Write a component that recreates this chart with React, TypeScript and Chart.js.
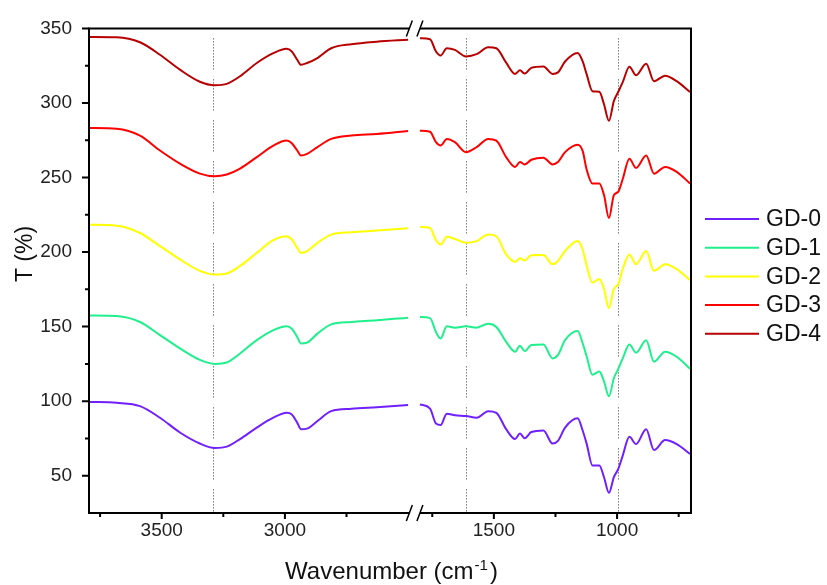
import { useEffect, useRef } from 'react';
import { Chart, registerables } from 'chart.js';

Chart.register(...registerables);

const seriesNames = ['GD-0', 'GD-1', 'GD-2', 'GD-3', 'GD-4'];
const seriesColors = ['#7020FF', '#1FEF8C', '#FFFF00', '#FF0000', '#B80000'];

// wavenumbers (cm-1), left segment of broken axis
const leftWavenumbers = [3795, 3683, 3588, 3507, 3426, 3345, 3284, 3236, 3182, 3114, 3047, 2993, 2972, 2950, 2935, 2910, 2868, 2812, 2730, 2627, 2500];
// right segment
const rightWavenumbers = [1800, 1759, 1735, 1716, 1691, 1658, 1613, 1570, 1523, 1490, 1450, 1414, 1394, 1375, 1348, 1299, 1262, 1240, 1211, 1160, 1140, 1123, 1100, 1072, 1053, 1033, 1013, 995, 977, 950, 923, 882, 850, 805, 758, 704];

const gd0Left = [99.5, 98.9, 96.7, 88.9, 79.0, 71.6, 68.6, 69.5, 74.6, 82.3, 88.9, 92.2, 91.1, 85.6, 81.2, 81.6, 86.7, 93.3, 94.9, 96.0, 97.4];
const gd1Left = [157.5, 157.1, 153.1, 144.3, 135.4, 127.7, 125.0, 125.9, 132.0, 140.9, 147.6, 150.2, 148.6, 143.1, 138.7, 139.3, 145.3, 151.5, 153.1, 154.2, 156.0];
const gd2Left = [218.3, 217.7, 212.8, 204.0, 195.1, 187.4, 184.9, 185.6, 190.7, 199.5, 208.0, 210.6, 208.4, 202.9, 199.5, 200.7, 206.2, 211.7, 213.3, 214.4, 215.9];
const gd3Left = [283.2, 282.7, 278.1, 268.1, 259.3, 252.6, 250.8, 252.0, 256.0, 263.7, 271.4, 274.8, 273.0, 268.1, 264.8, 265.9, 270.4, 275.9, 278.1, 279.2, 281.2];
const gd4Left = [344.2, 344.0, 340.7, 332.3, 322.3, 314.2, 311.9, 312.8, 317.9, 326.8, 333.4, 336.3, 334.5, 329.0, 325.6, 326.8, 330.1, 336.7, 339.4, 341.1, 342.4];

const gd0Right = [97.8, 95.0, 85.0, 84.0, 91.6, 90.5, 90.0, 88.9, 93.3, 92.2, 81.2, 74.6, 78.3, 75.2, 79.3, 80.4, 71.6, 73.4, 82.3, 88.5, 80.5, 71.2, 56.9, 56.9, 49.0, 38.5, 49.0, 54.6, 63.5, 76.1, 71.2, 81.2, 67.2, 73.9, 71.2, 64.6];
const gd1Right = [156.4, 155.7, 146.4, 142.0, 150.2, 149.3, 150.2, 149.3, 151.9, 149.8, 139.8, 133.2, 137.2, 133.6, 137.6, 138.0, 128.7, 131.0, 140.9, 147.0, 139.0, 129.8, 117.7, 119.9, 113.3, 103.3, 115.4, 121.7, 128.7, 138.0, 132.5, 140.9, 126.5, 133.2, 129.8, 121.7];
const gd2Right = [216.8, 216.1, 208.0, 205.0, 210.2, 208.8, 206.2, 207.3, 211.7, 210.6, 198.4, 193.4, 195.8, 194.4, 197.8, 198.0, 191.8, 194.0, 200.7, 207.5, 202.0, 190.7, 179.6, 181.9, 175.2, 162.4, 175.2, 178.5, 188.5, 198.4, 191.8, 200.7, 187.4, 191.8, 188.5, 181.2];
const gd3Right = [281.4, 280.7, 273.7, 271.4, 275.9, 273.7, 267.0, 270.4, 275.9, 274.7, 263.7, 257.1, 260.4, 258.8, 261.9, 263.3, 258.8, 260.4, 267.0, 272.0, 268.0, 255.0, 246.0, 246.0, 238.2, 222.8, 238.2, 240.5, 249.0, 262.6, 256.4, 264.8, 252.6, 257.1, 253.8, 246.0];
const gd4Right = [343.4, 342.7, 334.5, 331.8, 336.7, 335.6, 331.2, 332.7, 337.4, 336.7, 327.0, 319.5, 321.9, 319.7, 323.5, 324.5, 319.5, 320.5, 327.8, 333.5, 328.0, 319.0, 307.9, 307.5, 299.1, 288.0, 301.3, 307.5, 314.0, 324.3, 318.6, 326.3, 314.6, 318.3, 314.6, 307.3];

const leftValues = [gd0Left, gd1Left, gd2Left, gd3Left, gd4Left];
const rightValues = [gd0Right, gd1Right, gd2Right, gd3Right, gd4Right];

// axis ticks
const yMajorTicks = [50, 100, 150, 200, 250, 300, 350];
const yMinorTicks = [75, 125, 175, 225, 275, 325];
const xMajorTicks = [3500, 3000, 1500, 1000];
const xMinorTicks = [3750, 3250, 2750, 1750, 1250, 750];
const dropLines = [3290, 1615, 995];

// broken axis: left part 3795..2500, right part 1800..700
const AXIS_LEFT_MAX = 3795;
const BREAK_LEFT = 2495;
const BREAK_RIGHT = 1800;
const AXIS_RIGHT_MIN = 700;
const BREAK_OFFSET = 652;
const toAxis = (wn: number) => (wn >= 2300 ? wn : wn + BREAK_OFFSET);
const fromAxis = (v: number) => (v >= 2300 ? v : v - BREAK_OFFSET);

const FONT = "'Liberation Sans', Arial, sans-serif";

const framePlugin = {
  id: 'frame',
  beforeDatasetsDraw(chart: any) {
    const { ctx, chartArea, scales } = chart;
    const { top, bottom } = chartArea;
    ctx.save();
    ctx.strokeStyle = '#333';
    ctx.lineWidth = 1;
    const pattern: number[] = [];
    for (let i = 0; i < 10; i++) pattern.push(1, 2);
    pattern.push(1, 10);
    ctx.setLineDash(pattern);
    dropLines.forEach((wn) => {
      const px = Math.round(scales.x.getPixelForValue(toAxis(wn))) + 0.5;
      ctx.beginPath();
      ctx.moveTo(px, top + 10);
      ctx.lineTo(px, bottom);
      ctx.stroke();
    });
    ctx.restore();
  },
  afterDatasetsDraw(chart: any) {
    const { ctx, chartArea, scales } = chart;
    const { left, right, top, bottom } = chartArea;
    const bL = scales.x.getPixelForValue(BREAK_LEFT);
    const bR = scales.x.getPixelForValue(toAxis(BREAK_RIGHT));
    ctx.save();
    ctx.strokeStyle = '#000';
    ctx.lineWidth = 2;
    ctx.lineCap = 'butt';
    ctx.beginPath();
    ctx.moveTo(left, top); ctx.lineTo(bL, top);
    ctx.moveTo(bR, top); ctx.lineTo(right, top);
    ctx.moveTo(left, bottom); ctx.lineTo(bL, bottom);
    ctx.moveTo(bR, bottom); ctx.lineTo(right, bottom);
    ctx.moveTo(left, top - 1); ctx.lineTo(left, bottom + 1);
    ctx.moveTo(right, top - 1); ctx.lineTo(right, bottom + 1);
    ctx.stroke();
    // break marks
    ctx.lineWidth = 1.5;
    ctx.beginPath();
    [top, bottom].forEach((yy) => {
      [bL, bR].forEach((bx) => {
        ctx.moveTo(bx - 3, yy + 8);
        ctx.lineTo(bx + 3, yy - 8);
      });
    });
    ctx.stroke();
    // ticks
    ctx.lineWidth = 2;
    ctx.beginPath();
    yMajorTicks.forEach((v) => {
      const py = scales.y.getPixelForValue(v);
      ctx.moveTo(left, py); ctx.lineTo(left - 7, py);
    });
    yMinorTicks.forEach((v) => {
      const py = scales.y.getPixelForValue(v);
      ctx.moveTo(left, py); ctx.lineTo(left - 4, py);
    });
    xMajorTicks.forEach((v) => {
      const px = scales.x.getPixelForValue(toAxis(v));
      ctx.moveTo(px, bottom); ctx.lineTo(px, bottom + 6);
    });
    xMinorTicks.forEach((v) => {
      const px = scales.x.getPixelForValue(toAxis(v));
      ctx.moveTo(px, bottom); ctx.lineTo(px, bottom + 4);
    });
    ctx.stroke();
    ctx.restore();
  },
  afterDraw(chart: any) {
    const { ctx, chartArea } = chart;
    ctx.save();
    ctx.fillStyle = '#111';
    // y title
    ctx.font = `23px ${FONT}`;
    ctx.translate(32, 254);
    ctx.rotate(-Math.PI / 2);
    ctx.textAlign = 'center';
    ctx.textBaseline = 'alphabetic';
    ctx.fillText('T (%)', 0, 0);
    ctx.restore();

    // x title with superscript
    ctx.save();
    ctx.fillStyle = '#111';
    ctx.textBaseline = 'alphabetic';
    ctx.textAlign = 'left';
    const main = 'Wavenumber (cm';
    const sup = '-1';
    const close = ')';
    ctx.font = `24px ${FONT}`;
    const wMain = ctx.measureText(main).width;
    const wClose = ctx.measureText(close).width;
    ctx.font = `15px ${FONT}`;
    const wSup = ctx.measureText(sup).width + 2;
    const total = wMain + wSup + wClose;
    const cx = (chartArea.left + chartArea.right) / 2 + 1;
    let sx = cx - total / 2;
    const baseY = 579;
    ctx.font = `24px ${FONT}`;
    ctx.fillText(main, sx, baseY);
    sx += wMain + 1;
    ctx.font = `15px ${FONT}`;
    ctx.fillText(sup, sx, baseY - 9);
    sx += wSup;
    ctx.font = `24px ${FONT}`;
    ctx.fillText(close, sx, baseY);
    ctx.restore();

    // legend
    ctx.save();
    ctx.font = `23px ${FONT}`;
    ctx.textBaseline = 'middle';
    ctx.textAlign = 'left';
    chart.data.datasets.forEach((ds: any, i: number) => {
      const yy = 219 + i * 28.7;
      ctx.strokeStyle = ds.borderColor;
      ctx.lineWidth = 2;
      ctx.beginPath();
      ctx.moveTo(705, yy);
      ctx.lineTo(759, yy);
      ctx.stroke();
      ctx.fillStyle = '#111';
      ctx.fillText(ds.label, 766, yy + 1);
    });
    ctx.restore();
  },
};

export default function App() {
  const canvasRef = useRef<HTMLCanvasElement | null>(null);

  useEffect(() => {
    if (!canvasRef.current) return;
    const datasets = seriesNames.map((name, s) => ({
      label: name,
      data: [
        ...leftWavenumbers.map((wn, i) => ({ x: toAxis(wn), y: leftValues[s][i] })),
        { x: 2476, y: null },
        ...rightWavenumbers.map((wn, i) => ({ x: toAxis(wn), y: rightValues[s][i] })),
      ],
      borderColor: seriesColors[s],
      backgroundColor: seriesColors[s],
      borderWidth: 2,
      pointRadius: 0,
      cubicInterpolationMode: 'monotone' as const,
      spanGaps: false,
      fill: false,
    }));

    const chart = new Chart(canvasRef.current, {
      type: 'line',
      data: { datasets: datasets as any },
      options: {
        animation: false,
        responsive: false,
        maintainAspectRatio: false,
        layout: { padding: { top: 23, right: 136, left: 0, bottom: 0 } },
        plugins: {
          legend: { display: false },
          tooltip: { enabled: false },
        },
        scales: {
          x: {
            type: 'linear',
            reverse: true,
            min: AXIS_RIGHT_MIN + BREAK_OFFSET,
            max: AXIS_LEFT_MAX,
            grid: { display: false, drawTicks: false },
            border: { display: false },
            afterBuildTicks: (scale: any) => {
              scale.ticks = xMajorTicks.map((v) => ({ value: toAxis(v) }));
            },
            afterFit: (scale: any) => {
              scale.height = 72;
            },
            ticks: {
              autoSkip: false,
              maxRotation: 0,
              padding: 6,
              color: '#222',
              font: { family: FONT, size: 19 },
              callback: (v: any) => String(fromAxis(Number(v))),
            },
          },
          y: {
            type: 'linear',
            min: 25,
            max: 350,
            grid: { display: false, drawTicks: false },
            border: { display: false },
            afterBuildTicks: (scale: any) => {
              scale.ticks = yMajorTicks.map((v) => ({ value: v }));
            },
            afterFit: (scale: any) => {
              scale.width = 89;
            },
            ticks: {
              padding: 17,
              color: '#222',
              font: { family: FONT, size: 19 },
            },
          },
        },
      },
      plugins: [framePlugin],
    });
    return () => chart.destroy();
  }, []);

  return (
    <div style={{ position: 'fixed', left: 0, top: 0, width: 827, height: 585, background: '#fff' }}>
      <canvas ref={canvasRef} width={827} height={585} />
    </div>
  );
}
